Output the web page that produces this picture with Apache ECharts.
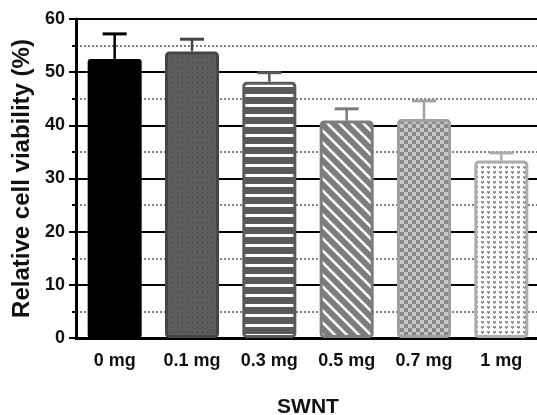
<!DOCTYPE html>
<html>
<head>
<meta charset="utf-8">
<script src="https://cdn.jsdelivr.net/npm/echarts@6/dist/echarts.min.js"></script>
<style>html,body{margin:0;padding:0;background:#fff}#c{width:537px;height:415px}</style>
</head>
<body>
<div id="c"></div>
<script>
var categories = ['0 mg', '0.1 mg', '0.3 mg', '0.5 mg', '0.7 mg', '1 mg'];
var viability = [52.5, 53.9, 48.2, 40.9, 41.2, 33.4];
var errors = [4.7, 2.3, 1.7, 2.2, 3.4, 1.4];
var yTicks = [0, 10, 20, 30, 40, 50, 60];

function tile(w, h, draw) {
  var c = document.createElement('canvas');
  c.width = w; c.height = h;
  var g = c.getContext('2d');
  draw(g, w, h);
  return { image: c, repeat: 'repeat' };
}
var pats = [
  '#000000',
  tile(5, 5, function (g) { g.fillStyle = '#5c5c5c'; g.fillRect(0, 0, 5, 5); g.fillStyle = '#383838'; g.fillRect(2, 2, 1, 1); }),
  tile(10, 10, function (g) { g.fillStyle = '#5a5a5a'; g.fillRect(0, 0, 10, 10); g.fillStyle = '#ffffff'; g.fillRect(0, 4, 10, 3); }),
  tile(12, 12, function (g) {
    g.fillStyle = '#7c7c7c'; g.fillRect(0, 0, 12, 12);
    g.strokeStyle = '#ffffff'; g.lineWidth = 2.6;
    [-12, 0, 12].forEach(function (o) { g.beginPath(); g.moveTo(o - 1, -1); g.lineTo(o + 13, 13); g.stroke(); });
  }),
  tile(8, 8, function (g) { g.fillStyle = '#c6c6c6'; g.fillRect(0, 0, 8, 8); g.fillStyle = '#888888'; g.fillRect(0, 0, 4, 4); g.fillRect(4, 4, 4, 4); }),
  tile(6, 5, function (g) {
    g.fillStyle = '#ffffff'; g.fillRect(0, 0, 6, 5);
    g.fillStyle = '#8c8c8c';
    g.fillRect(1, 1, 1, 1); g.fillRect(3, 1, 1, 1);
    g.fillRect(1, 2, 3, 1); g.fillRect(2, 3, 1, 1);
    g.fillStyle = '#bdbdbd'; g.fillRect(2, 1, 1, 1);
  })
];
var borders = ['#000000', '#444444', '#5a5a5a', '#7c7c7c', '#a0a0a0', '#acacac'];

var font = "'Liberation Sans', Arial, sans-serif";
var chart = echarts.init(document.getElementById('c'));
chart.setOption({
  animation: false,
  backgroundColor: '#ffffff',
  grid: { left: 76, top: 19, width: 464, height: 319, outerBoundsMode: 'none', containLabel: false },
  xAxis: {
    type: 'category',
    data: categories,
    name: 'SWNT',
    nameLocation: 'middle',
    nameGap: 59,
    nameTextStyle: { fontFamily: font, fontWeight: 'bold', fontSize: 21, color: '#111' },
    axisLine: { lineStyle: { color: '#000', width: 3 } },
    axisTick: { alignWithLabel: true, length: 6, lineStyle: { color: '#000', width: 2 } },
    axisLabel: { fontFamily: font, fontWeight: 'bold', fontSize: 18, color: '#111', margin: 14 }
  },
  yAxis: {
    type: 'value',
    min: yTicks[0],
    max: yTicks[yTicks.length - 1],
    interval: 10,
    name: 'Relative cell viability (%)',
    nameLocation: 'middle',
    nameGap: 40,
    nameTextStyle: { fontFamily: font, fontWeight: 'bold', fontSize: 24, color: '#111' },
    axisLine: { show: true, lineStyle: { color: '#000', width: 3 } },
    axisTick: { show: true, length: 7, lineStyle: { color: '#000', width: 2 } },
    minorTick: { show: true, splitNumber: 2, length: 4, lineStyle: { color: '#000', width: 2 } },
    axisLabel: { fontFamily: font, fontWeight: 'bold', fontSize: 18, color: '#111', margin: 11 },
    splitLine: { show: true, lineStyle: { color: '#000', width: 2 } },
    minorSplitLine: { show: true, lineStyle: { color: '#555', width: 1.5, type: [2, 2] } }
  },
  series: [
    {
      type: 'bar',
      barWidth: 54,
      data: viability.map(function (v, i) {
        return { value: v, itemStyle: { color: pats[i], borderColor: borders[i], borderWidth: i === 0 ? 0 : 3, borderRadius: 3 } };
      }),
      z: 2
    },
    {
      type: 'custom',
      z: 3,
      data: viability.map(function (v, i) { return [i, v, errors[i]]; }),
      renderItem: function (params, api) {
        var i = api.value(0), v = api.value(1), e = api.value(2);
        var base = api.coord([i, v]);
        var top = api.coord([i, v + e]);
        var col = borders[i];
        return {
          type: 'group',
          children: [
            { type: 'line', shape: { x1: base[0], y1: base[1], x2: top[0], y2: top[1] }, style: { stroke: col, lineWidth: 2.5 } },
            { type: 'line', shape: { x1: top[0] - 12, y1: top[1], x2: top[0] + 12, y2: top[1] }, style: { stroke: col, lineWidth: 3 } }
          ]
        };
      }
    }
  ]
});
</script>
</body>
</html>
